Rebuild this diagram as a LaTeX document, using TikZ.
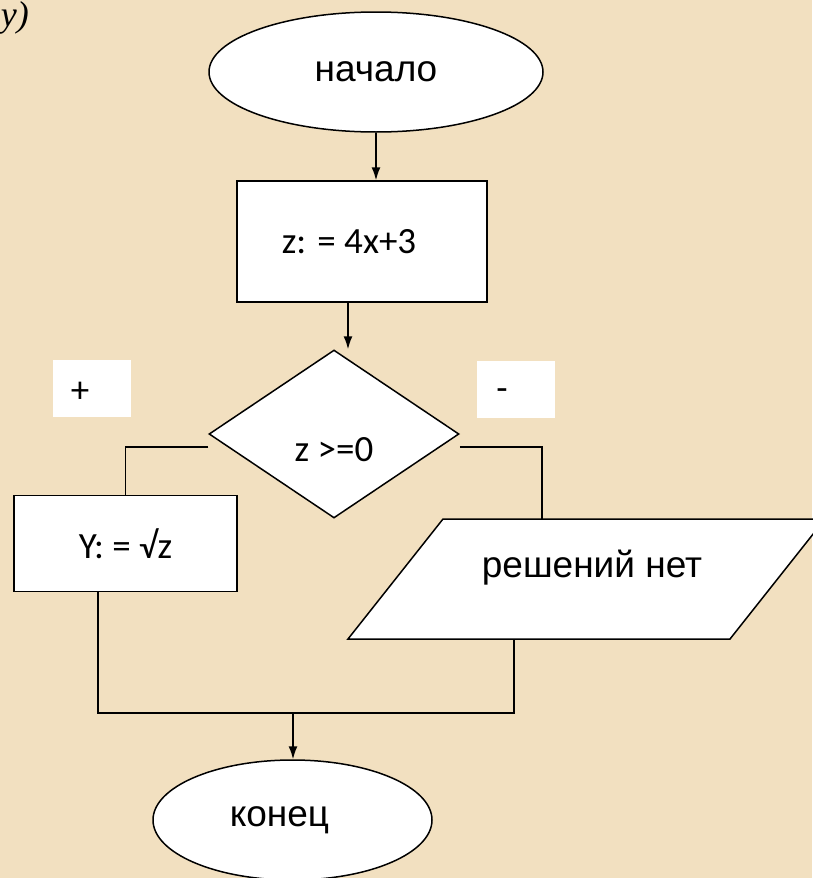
\documentclass[tikz,border=0pt]{standalone}
\usepackage{fontspec}
\setmainfont{Liberation Sans}
\newfontfamily\calibri{Carlito}
\newfontfamily\timesfont{Liberation Serif}
\usetikzlibrary{shapes.geometric,arrows.meta,calc}
\definecolor{paper}{RGB}{242,224,192}
\tikzstyle{block}=[draw, fill=white, line width=1.5pt, inner sep=0pt]
\tikzstyle{term}=[block, ellipse, font=\fontsize{37}{40}\selectfont]
\tikzstyle{proc}=[block, rectangle]
\tikzstyle{test}=[block, diamond]
\tikzstyle{ctext}=[inner sep=0pt, font=\calibri\fontsize{37}{40}\selectfont]
\tikzstyle{atext}=[inner sep=0pt, font=\fontsize{37}{40}\selectfont]
\tikzstyle{sign}=[fill=white, minimum width=78pt, minimum height=57pt, inner sep=0pt]
\tikzstyle{link}=[line width=1.5pt]
\tikzstyle{flow}=[link, -{Latex[length=13pt,width=9pt]}]

\begin{document}
\begin{tikzpicture}[x=1pt, y=-1pt]
	\fill[paper] (0,0) rectangle (812,878);
	\useasboundingbox (0,0) rectangle (812,878);
	\node[anchor=base east, inner sep=0pt, font=\timesfont\itshape\fontsize{36}{40}\selectfont] (corner) at (29,27) {y)};
	% shapes
	\node[term, minimum width=334pt, minimum height=120pt] (start) at (376,72) {начало};
	\node[proc, minimum width=250pt, minimum height=121pt] (zcalc) at (362,241.5) {};
	\node[test, minimum width=250pt, minimum height=168pt] (cond) at (334,434) {};
	\node[proc, minimum width=223pt, minimum height=96pt] (yroot) at (125.5,543.5) {};
	\coordinate (nosolA) at (443,519);
	\coordinate (nosolB) at (825,519);
	\coordinate (nosolC) at (730,639);
	\coordinate (nosolD) at (348,639);
	\filldraw[block] (nosolA) -- (nosolB) -- (nosolC) -- (nosolD) -- cycle;
	\node[term, minimum width=279pt, minimum height=120pt] (finish) at (292.5,820) {};
	\node[sign] (plus) at (92,388.5) {};
	\node[sign] (minus) at (516,389) {};
	% texts
	\node[ctext] (zcalctext) at ([xshift=-13pt]zcalc) {z: = 4x+3};
	\node[ctext] (condtext) at ([yshift=-16pt]cond) {z >=0};
	\node[ctext] (yroottext) at (yroot) {Y: = √z};
	\node[atext] (nosol) at (592,568) {решений нет};
	\node[atext] (finishtext) at ([xshift=-13pt]finish) {конец};
	\node[ctext] (plustext) at ([shift={(-12pt,-4pt)}]plus) {+};
	\node[ctext] (minustext) at ([shift={(-14pt,-6pt)}]minus) {-};
	% connectors
	\coordinate (nosoltop) at (542,519);
	\coordinate (nosolbot) at (514,639);
	\coordinate (merge) at (293,713);
	\draw[flow] (start.south) -- (start.south |- zcalc.north);
	\draw[flow] ([xshift=-14pt]zcalc.south) -- ([xshift=-14pt]zcalc.south |- cond.north);
	\draw[link] ([yshift=-13pt]cond.west) -| (yroot.north);
	\draw[link] ([yshift=-13pt]cond.east) -| (nosoltop);
	\draw[link] ([xshift=-27.5pt]yroot.south) |- (merge);
	\draw[link] (nosolbot) |- (merge);
	\draw[flow] (merge) -- (merge |- finish.north);
\end{tikzpicture}
\end{document}
